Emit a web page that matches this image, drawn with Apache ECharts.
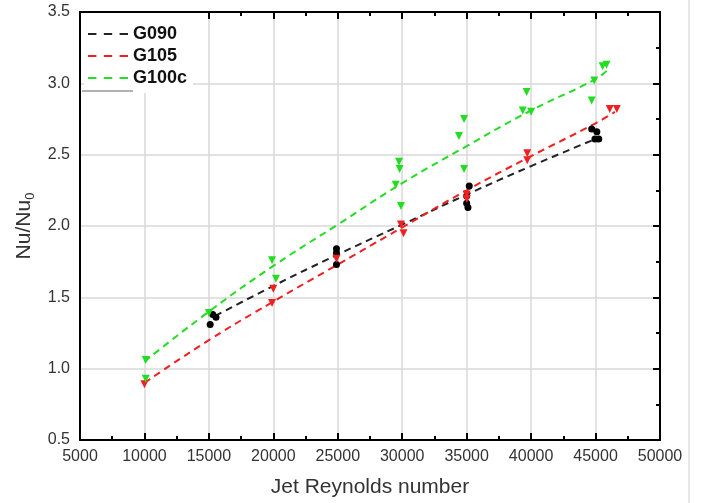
<!DOCTYPE html>
<html>
<head>
<meta charset="utf-8">
<script src="https://cdn.jsdelivr.net/npm/echarts@6/dist/echarts.min.js"></script>
<style>
html, body { margin: 0; padding: 0; background: #fff; }
#chart { width: 702px; height: 503px; }
</style>
</head>
<body>
<div id="chart"></div>
<script>
// measured points
var g090Re = [15100, 15300, 15550, 24900, 24900, 24900, 35200, 35000, 35000, 35100, 44700, 45100, 44950, 45250];
var g090Nu = [1.31, 1.38, 1.36, 1.84, 1.81, 1.73, 2.28, 2.21, 2.16, 2.13, 2.68, 2.66, 2.61, 2.61];
var g105Re = [10000, 19900, 20000, 24900, 29900, 30100, 35000, 35000, 39700, 39700, 46100, 46650];
var g105Nu = [0.89, 1.46, 1.56, 1.77, 2.01, 1.95, 2.22, 2.19, 2.51, 2.46, 2.82, 2.82];
var g100cRe = [10100, 10100, 15000, 19900, 20200, 29750, 29800, 29500, 29900, 34800, 34400, 34800, 39650, 39350, 40000, 44900, 44700, 45550, 45850];
var g100cNu = [1.06, 0.93, 1.39, 1.76, 1.63, 2.45, 2.40, 2.29, 2.14, 2.75, 2.63, 2.40, 2.94, 2.81, 2.80, 3.02, 2.88, 3.12, 3.13];

// fitted (dashed) curves
var fit090Re = [15500, 20000, 25000, 30000, 35000, 40000, 45000];
var fit090Nu = [1.37, 1.58, 1.80, 2.01, 2.22, 2.42, 2.61];
var fit105Re = [10000, 15000, 20000, 25000, 30000, 35000, 40000, 45000, 46500];
var fit105Nu = [0.90, 1.20, 1.47, 1.73, 1.99, 2.25, 2.49, 2.72, 2.80];
var fit100cRe = [10000, 15000, 20000, 25000, 30000, 35000, 40000, 45000, 46000];
var fit100cNu = [1.05, 1.40, 1.72, 2.01, 2.30, 2.56, 2.81, 3.03, 3.10];

function pairs(xs, ys) {
  var out = [];
  for (var i = 0; i < xs.length; i++) out.push([xs[i], ys[i]]);
  return out;
}

var cBlack = '#222', cRed = '#f02020', cGreen = '#22dd22';
var dashIcon = 'path://M0,0H8V2H0Z M15,0H23V2H15Z M30,0H38V2H30Z';

var myChart = echarts.init(document.getElementById('chart'));
var axisFont = { fontFamily: 'Liberation Sans, Arial', fontSize: 16, color: '#333' };

function fitSeries(name, xs, ys, color) {
  return {
    name: name, type: 'line', smooth: true, symbol: 'none',
    data: pairs(xs, ys), z: 3,
    lineStyle: { color: color, width: 2, type: [7, 5] },
    itemStyle: { color: color }
  };
}
function markSeries(name, xs, ys, color, sym, size, rot) {
  return {
    name: name, type: 'scatter', symbol: sym, symbolSize: size, symbolRotate: rot,
    data: pairs(xs, ys), z: 4,
    itemStyle: { color: color, opacity: 1 }
  };
}

var option = {
  animation: false,
  backgroundColor: '#fff',
  grid: { left: 80, right: 42, top: 12, bottom: 63 },
  legend: {
    data: [
      { name: 'G090', icon: dashIcon },
      { name: 'G105', icon: dashIcon },
      { name: 'G100c', icon: dashIcon }
    ],
    orient: 'vertical', left: 84, top: 13,
    itemWidth: 40, itemHeight: 3, itemGap: 4,
    backgroundColor: '#fff', padding: [12, 6, 6, 4],
    textStyle: { fontFamily: 'Liberation Sans, Arial', fontSize: 18, fontWeight: 'bold', color: '#111' }
  },
  xAxis: [{
    type: 'value', min: 5000, max: 50000, interval: 5000,
    name: 'Jet Reynolds number', nameLocation: 'middle', nameGap: 37,
    nameTextStyle: { fontFamily: 'Liberation Sans, Arial', fontSize: 21, color: '#333' },
    axisLine: { lineStyle: { color: '#000', width: 2 } },
    axisTick: { inside: true, length: 7, lineStyle: { color: '#000', width: 2 } },
    minorTick: { show: true, splitNumber: 2, length: 4, lineStyle: { color: '#000', width: 2 } },
    axisLabel: Object.assign({ margin: 9, showMinLabel: true, showMaxLabel: true, formatter: function (v) { return String(v); } }, axisFont),
    splitLine: { show: true, lineStyle: { color: '#d8d8d8', width: 1.5 } }
  }, {
    type: 'value', position: 'top', min: 5000, max: 50000, interval: 5000,
    axisLine: { show: true, lineStyle: { color: '#000', width: 2 } },
    axisTick: { show: true, inside: true, length: 7, lineStyle: { color: '#000', width: 2 } },
    minorTick: { show: true, splitNumber: 2, length: 4, lineStyle: { color: '#000', width: 2 } },
    axisLabel: { show: false }, splitLine: { show: false }
  }],
  yAxis: [{
    type: 'value', min: 0.5, max: 3.5, interval: 0.5,
    name: '{a|Nu/Nu}{s|0}', nameLocation: 'middle', nameGap: 43, nameRotate: 90,
    nameTextStyle: {
      rich: {
        a: { fontFamily: 'Liberation Sans, Arial', fontSize: 21, color: '#333' },
        s: { fontFamily: 'Liberation Sans, Arial', fontSize: 13, color: '#333', padding: [12, 0, 0, 0] }
      }
    },
    axisLine: { show: true, lineStyle: { color: '#000', width: 2 } },
    axisTick: { show: false },
    axisLabel: Object.assign({ margin: 10, formatter: function (v) { return v.toFixed(1); } }, axisFont),
    splitLine: { show: true, lineStyle: { color: '#d8d8d8', width: 1.5 } }
  }, {
    type: 'value', position: 'right', min: 0.5, max: 3.5, interval: 0.5,
    axisLine: { show: true, lineStyle: { color: '#000', width: 2 } },
    axisTick: { show: true, inside: true, length: 7, lineStyle: { color: '#000', width: 2 } },
    minorTick: { show: true, splitNumber: 2, length: 4, lineStyle: { color: '#000', width: 2 } },
    axisLabel: { show: false }, splitLine: { show: false }
  }],
  graphic: [
    { type: 'line', shape: { x1: 82, y1: 91, x2: 133, y2: 91 }, style: { stroke: '#999', lineWidth: 1.5 }, z: 100 },
    { type: 'line', shape: { x1: 689, y1: 0, x2: 689, y2: 503 }, style: { stroke: '#e0e0e0', lineWidth: 1.5 }, z: 100 }
  ],
  series: [
    fitSeries('G090', fit090Re, fit090Nu, cBlack),
    fitSeries('G105', fit105Re, fit105Nu, cRed),
    fitSeries('G100c', fit100cRe, fit100cNu, cGreen),
    markSeries('G090 data', g090Re, g090Nu, '#000', 'circle', 7, 0),
    markSeries('G105 data', g105Re, g105Nu, cRed, 'triangle', 8, 180),
    markSeries('G100c data', g100cRe, g100cNu, cGreen, 'triangle', 8, 180)
  ]
};
myChart.setOption(option, true);
</script>
</body>
</html>
